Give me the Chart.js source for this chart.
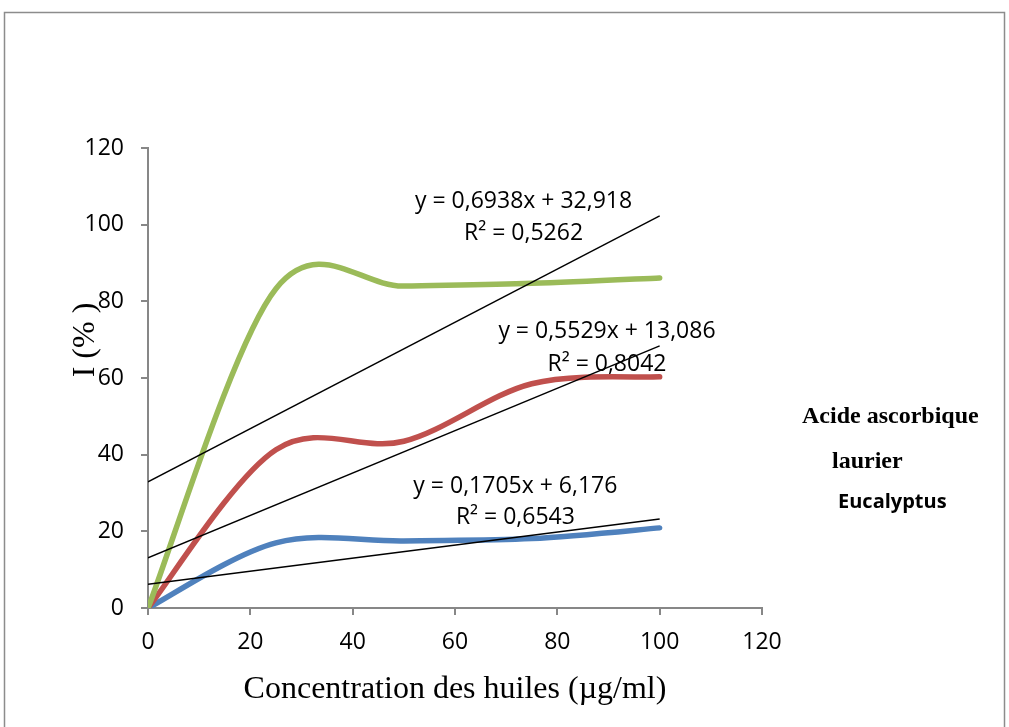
<!DOCTYPE html>
<html>
<head>
<meta charset="utf-8">
<script src="https://cdn.jsdelivr.net/npm/chart.js@4.4.1/dist/chart.umd.min.js"></script>
<style>
  html, body { margin: 0; padding: 0; background: #fff; }
  #chart { display: block; }
</style>
</head>
<body>
<canvas id="chart" width="1009" height="727"></canvas>
<script>
// concentrations (µg/ml) and inhibition I (%)
const concentrations = [0, 25, 50, 75, 100];
const acideAscorbique = [0, 83.3, 84.0, 84.7, 86.1];
const laurier = [0, 41.3, 43.5, 58.5, 60.3];
const eucalyptus = [0, 17.0, 17.5, 18.1, 20.9];

// linear trendlines, ends at x = 0 and x = 100
const trendX = [0, 100];
const trendAcide = [32.9, 102.3];
const trendLaurier = [13.1, 68.4];
const trendEucalyptus = [6.2, 23.2];

const seriesNames = ["Acide ascorbique", "laurier", "Eucalyptus"];
const seriesColors = ["#9bbb59", "#c0504d", "#4f81bd"];

const equations = [
  ["y = 0,6938x + 32,918", "R² = 0,5262"],
  ["y = 0,5529x + 13,086", "R² = 0,8042"],
  ["y = 0,1705x + 6,176", "R² = 0,6543"]
];
// where each equation block sits, in data units (centre x, baseline y of both lines)
const equationAnchors = [
  { x: 73.4, y1: 104.3, y2: 96.0 },
  { x: 89.7, y1: 70.4, y2: 61.8 },
  { x: 71.8, y1: 30.0, y2: 22.0 }
];

const toPoints = (xs, ys) => xs.map((x, i) => ({ x: x, y: ys[i] }));

const gray = "#878787";

const curve = (label, values, color) => ({
  label: label,
  data: toPoints(concentrations, values),
  borderColor: color,
  backgroundColor: color,
  borderWidth: 5.5,
  pointRadius: 0,
  showLine: true,
  tension: 0.4,
  smoothLikeExcel: true,
  borderCapStyle: "round",
  order: 2
});

const trend = (values) => ({
  label: "trend",
  data: toPoints(trendX, values),
  borderColor: "#000",
  borderWidth: 1.4,
  pointRadius: 0,
  showLine: true,
  tension: 0,
  order: 1
});

// Office style smoothing: catmull-rom control points (1/6 of the neighbour span)
const smoothing = {
  id: "smoothing",
  beforeDatasetDraw(chart, args) {
    const ds = chart.data.datasets[args.index];
    if (!ds.smoothLikeExcel) return;
    const pts = args.meta.data;
    pts.forEach((p, i) => {
      const prev = pts[i - 1] || p;
      const next = pts[i + 1] || p;
      const dx = (next.x - prev.x) / 6;
      const dy = (next.y - prev.y) / 6;
      p.cp1x = p.x - dx; p.cp1y = p.y - dy;
      p.cp2x = p.x + dx; p.cp2y = p.y + dy;
    });
    args.meta.dataset._pointsUpdated = true;
  }
};

const decor = {
  id: "decor",
  beforeDraw(chart) {
    const ctx = chart.ctx;
    ctx.save();
    ctx.strokeStyle = "#8c8c8c";
    ctx.lineWidth = 1.5;
    ctx.strokeRect(4.5, 12.5, 1000, 730);
    ctx.restore();
  },
  afterDraw(chart) {
    const ctx = chart.ctx;
    const xs = chart.scales.x, ys = chart.scales.y;
    const area = chart.chartArea;
    ctx.save();
    ctx.fillStyle = "#000";

    // trendline equations
    ctx.font = "23px 'Open Sans'";
    ctx.textAlign = "center";
    ctx.textBaseline = "alphabetic";
    equations.forEach((lines, i) => {
      const a = equationAnchors[i];
      const px = xs.getPixelForValue(a.x);
      ctx.fillText(lines[0], px, ys.getPixelForValue(a.y1));
      ctx.fillText(lines[1], px, ys.getPixelForValue(a.y2));
    });

    // axis titles
    ctx.font = "32px 'Liberation Serif'";
    ctx.fillText("Concentration des huiles (µg/ml)", (area.left + area.right) / 2, 698);
    ctx.save();
    ctx.translate(94, 340);
    ctx.rotate(-Math.PI / 2);
    ctx.font = "32px 'Liberation Serif'";
    ctx.fillText("I (% )", 0, 0);
    ctx.restore();

    // legend (text only, as in the original)
    ctx.textAlign = "left";
    ctx.font = "bold 24px 'Liberation Serif'";
    ctx.fillText(seriesNames[0], 802, 423);
    ctx.fillText(seriesNames[1], 832, 468);
    ctx.font = "bold 20px 'Open Sans'";
    ctx.fillText(seriesNames[2], 838, 508);
    ctx.restore();
  }
};

new Chart(document.getElementById("chart"), {
  type: "scatter",
  data: {
    datasets: [
      curve(seriesNames[0], acideAscorbique, seriesColors[0]),
      curve(seriesNames[1], laurier, seriesColors[1]),
      curve(seriesNames[2], eucalyptus, seriesColors[2]),
      trend(trendAcide),
      trend(trendLaurier),
      trend(trendEucalyptus)
    ]
  },
  options: {
    responsive: false,
    animation: false,
    layout: { padding: { top: 148, right: 247, bottom: 0, left: 0 } },
    plugins: {
      legend: { display: false },
      tooltip: { enabled: false }
    },
    scales: {
      x: {
        type: "linear",
        min: 0, max: 120,
        afterFit: (s) => { s.height = 119; },
        ticks: { stepSize: 20, padding: 14, color: "#000", font: { family: "'Open Sans'", size: 23 } },
        grid: { drawOnChartArea: false, drawTicks: true, tickLength: 7, color: gray, lineWidth: 2 },
        border: { color: gray, width: 2 }
      },
      y: {
        min: 0, max: 120,
        afterFit: (s) => { s.width = 148; },
        ticks: { stepSize: 20, padding: 17, color: "#000", font: { family: "'Open Sans'", size: 23 } },
        grid: { drawOnChartArea: false, drawTicks: true, tickLength: 7, color: gray, lineWidth: 2 },
        border: { color: gray, width: 2 }
      }
    }
  },
  plugins: [smoothing, decor]
});
</script>
</body>
</html>
